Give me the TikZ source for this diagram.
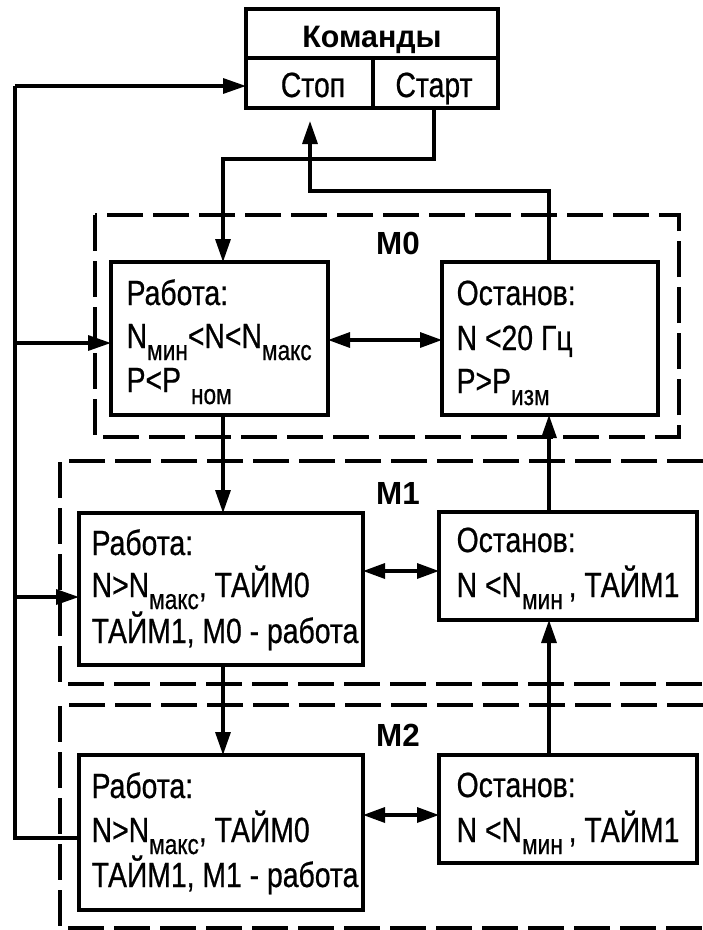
\documentclass[tikz,border=0pt]{standalone}
\usepackage{fontspec}
\setmainfont{Liberation Sans}[FakeStretch=0.81,FakeBold=0.6]
\newfontfamily\headfont{Liberation Sans}[FakeStretch=0.98]
\usetikzlibrary{arrows.meta}
\newcommand{\sbs}[1]{\raisebox{-12pt}{\fontsize{28}{28}\selectfont #1}}
\begin{document}
\begin{tikzpicture}[x=1pt,y=-1pt,line width=3.3pt,
  box/.style={draw,line width=3.3pt,inner sep=0pt,outer sep=0pt,anchor=north west},
  txt/.style={anchor=base west,inner sep=0pt,font=\fontsize{35}{35}\selectfont},
  ctxt/.style={anchor=base,inner sep=0pt,font=\fontsize{35}{35}\selectfont},
  lbl/.style={anchor=center,inner sep=0pt,font=\headfont\bfseries\fontsize{32}{32}\selectfont},
  grp/.style={line width=3.6pt,dash pattern=on 36pt off 10pt},
  arr/.style={-{Triangle[length=23pt,width=15pt]}},
  dbl/.style={{Triangle[length=22pt,width=15pt]}-{Triangle[length=22pt,width=15pt]}}]
\fill[white] (0,0) rectangle (703,930);
\useasboundingbox (0,0) rectangle (703,930);

% command table
\node[box,minimum width=252pt,minimum height=49pt] (hdr) at (246,9) {};
\node[box,minimum width=127pt,minimum height=50pt] (stop) at (246,58) {};
\node[box,minimum width=125pt,minimum height=50pt] (start) at (373,58) {};
\node[anchor=base,inner sep=0pt,font=\headfont\bfseries\fontsize{31}{31}\selectfont] (hdrt) at (372,47) {Команды};
\node[ctxt] (stopt) at (313,97) {Стоп};
\node[ctxt] (startt) at (434,97) {Старт};

% group frames
\draw[grp] (95,215) rectangle (679,437);
\draw[grp] (703,461) -- (60,461) -- (60,684) -- (703,684);
\draw[grp] (703,705) -- (60,705) -- (60,928) -- (703,928);
\node[lbl] (m0) at (398,243) {M0};
\node[lbl] (m1) at (398,493) {M1};
\node[lbl] (m2) at (398,735) {M2};

% state boxes
\node[box,fill=white,minimum width=217pt,minimum height=153pt] (r0) at (111,262) {};
\node[box,fill=white,minimum width=216pt,minimum height=153pt] (s0) at (442,262) {};
\node[box,fill=white,minimum width=284pt,minimum height=152pt] (r1) at (79,513) {};
\node[box,fill=white,minimum width=258pt,minimum height=108pt] (s1) at (439,512) {};
\node[box,fill=white,minimum width=284pt,minimum height=155pt] (r2) at (79,755) {};
\node[box,fill=white,minimum width=258pt,minimum height=108pt] (s2) at (439,755) {};

% texts
\node[txt] (r0a) at (125,305) {Работа:};
\node[txt] (r0b) at (125,348) {N\sbs{мин}<N<N\sbs{макс}};
\node[txt] (r0c) at (125,392) {P<P\hspace{10pt}\sbs{ном}};
\node[txt] (s0a) at (455,305) {Останов:};
\node[txt] (s0b) at (455,350) {N <20 Гц};
\node[txt] (s0c) at (455,393) {P>P\sbs{изм}};

\node[txt] (r1a) at (90,555) {Работа:};
\node[txt] (r1b) at (90,597) {N>N\sbs{макс}, ТАЙМ0};
\node[txt] (r1c) at (90,643) {ТАЙМ1, М0 - работа};
\node[txt] (s1a) at (455,552) {Останов:};
\node[txt] (s1b) at (455,597) {N <N\sbs{мин}\,, ТАЙМ1};

\node[txt] (r2a) at (90,798) {Работа:};
\node[txt] (r2b) at (90,842) {N>N\sbs{макс}, ТАЙМ0};
\node[txt] (r2c) at (90,887) {ТАЙМ1, М1 - работа};
\node[txt] (s2a) at (455,797) {Останов:};
\node[txt] (s2b) at (455,842) {N <N\sbs{мин}\,, ТАЙМ1};

% coordinates
\coordinate (bt) at (15,86);
\coordinate (bb) at (15,838);
\coordinate (b0) at (15,343);
\coordinate (b1) at (15,597);
\coordinate (sj1) at (434,159);
\coordinate (sj2) at (223,159);
\coordinate (tj1) at (549,191);
\coordinate (tj2) at (310,191);
\coordinate (tip) at (310,121);
\coordinate (d0) at (0,340);
\coordinate (d1) at (0,571);
\coordinate (d2) at (0,815);

% connectors
\draw[arr] (bt) -- (bt -| stop.west);
\draw (bt) -- (bb) -- (bb -| r2.west);
\draw[arr] (b0) -- (b0 -| r0.west);
\draw[arr] (b1) -- (b1 -| r1.west);
\draw[arr] (sj1 |- start.south) -- (sj1) -- (sj2) -- (sj2 |- r0.north);
\draw[arr] (sj2 |- r0.south) -- (sj2 |- r1.north);
\draw[arr] (sj2 |- r1.south) -- (sj2 |- r2.north);
\draw[arr] (tj1 |- s0.north) -- (tj1) -- (tj2) -- (tip);
\draw[arr] (tj1 |- s1.north) -- (tj1 |- s0.south);
\draw[arr] (tj1 |- s2.north) -- (tj1 |- s1.south);
\draw[dbl] (d0 -| r0.east) -- (d0 -| s0.west);
\draw[dbl] (d1 -| r1.east) -- (d1 -| s1.west);
\draw[dbl] (d2 -| r2.east) -- (d2 -| s2.west);
\end{tikzpicture}
\end{document}
